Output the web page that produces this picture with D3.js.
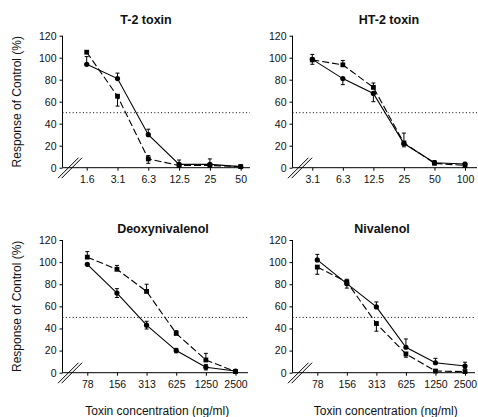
<!DOCTYPE html>
<html><head><meta charset="utf-8">
<script src="https://cdn.jsdelivr.net/npm/d3@7"></script>
<style>
body{margin:0;background:#fff}
svg{display:block}
text{font-family:"Liberation Sans",Arial,sans-serif;fill:#111}
</style>
</head><body>
<svg id="chart" width="478" height="417"></svg>
<script>
// ---------- data ----------
const yTicks = [0, 20, 40, 60, 80, 100, 120];
const refLine = 50;

const t2Conc = ["1.6", "3.1", "6.3", "12.5", "25", "50"];
const t2Solid = [94, 81, 30, 3, 3, 1];
const t2SolidUp = [7, 5, 5, 0, 0, 0];
const t2SolidDown = [0, 0, 0, 0, 0, 0];
const t2Dash = [105, 65, 8, 2, 2, 1];
const t2DashUp = [0, 0, 3, 5, 6, 0];
const t2DashDown = [0, 9, 4, 0, 0, 0];

const ht2Conc = ["3.1", "6.3", "12.5", "25", "50", "100"];
const ht2Solid = [98.5, 81, 67.5, 22, 4.5, 3.3];
const ht2SolidUp = [4.5, 0, 0, 0, 2, 1.5];
const ht2SolidDown = [4.5, 5.5, 7.5, 3, 0, 0];
const ht2Dash = [98, 93.5, 73, 22.5, 4, 2];
const ht2DashUp = [0, 4, 4, 9, 0, 0];
const ht2DashDown = [0, 0, 0, 0, 0, 0];

const donConc = ["78", "156", "313", "625", "1250", "2500"];
const donSolid = [98, 72, 43, 20, 5, 1.5];
const donSolidUp = [0, 4, 3.5, 2, 2.5, 0];
const donSolidDown = [0, 4, 3.5, 2, 2.5, 0];
const donDash = [104.5, 93.5, 73.5, 35.5, 11.5, 1];
const donDashUp = [5, 3.5, 6.5, 2.5, 6, 0];
const donDashDown = [0, 0, 0, 0, 0, 0];

const nivConc = ["78", "156", "313", "625", "1250", "2500"];
const nivSolid = [102, 80.5, 59.5, 23, 9, 6];
const nivSolidUp = [5, 4, 4.5, 7.5, 4, 3.5];
const nivSolidDown = [0, 4, 0, 0, 0, 2.5];
const nivDash = [95.5, 82, 44.5, 17, 1.5, 1];
const nivDashUp = [0, 0, 0, 0, 0, 0];
const nivDashDown = [6.5, 0, 7, 3, 0, 0];

const titles = ["T-2 toxin", "HT-2 toxin", "Deoxynivalenol", "Nivalenol"];
const yLabel = "Response of Control (%)";
const xLabel = "Toxin concentration (ng/ml)";

// ---------- layout ----------
const panels = [
  {title: titles[0], cats: t2Conc, solid: t2Solid, sUp: t2SolidUp, sDn: t2SolidDown,
   dash: t2Dash, dUp: t2DashUp, dDn: t2DashDown,
   left: 62.5, right: 250, top: 35.7, bottom: 167.7, first: 86.7, last: 240.7,
   titleX: 146, titleY: 24, yLab: true, xLab: false},
  {title: titles[1], cats: ht2Conc, solid: ht2Solid, sUp: ht2SolidUp, sDn: ht2SolidDown,
   dash: ht2Dash, dUp: ht2DashUp, dDn: ht2DashDown,
   left: 292.5, right: 477, top: 35.7, bottom: 167.7, first: 312.3, last: 465,
   titleX: 389, titleY: 24, yLab: false, xLab: false},
  {title: titles[2], cats: donConc, solid: donSolid, sUp: donSolidUp, sDn: donSolidDown,
   dash: donDash, dUp: donDashUp, dDn: donDashDown,
   left: 62.5, right: 248, top: 240, bottom: 372.7, first: 87.3, last: 235.5,
   titleX: 163, titleY: 233, yLab: true, xLab: true},
  {title: titles[3], cats: nivConc, solid: nivSolid, sUp: nivSolidUp, sDn: nivSolidDown,
   dash: nivDash, dUp: nivDashUp, dDn: nivDashDown,
   left: 292.5, right: 475, top: 240, bottom: 372.7, first: 317.3, last: 465,
   titleX: 382, titleY: 233, yLab: false, xLab: true}
];

const svg = d3.select("#chart");

panels.forEach(p => {
  const g = svg.append("g");
  const x = d3.scalePoint().domain(p.cats).range([p.first, p.last]);
  const y = d3.scaleLinear().domain([0, 120]).range([p.bottom, p.top]);

  // title
  g.append("text").attr("x", p.titleX).attr("y", p.titleY)
    .attr("text-anchor", "middle").attr("font-size", 12.5).attr("font-weight", "bold")
    .text(p.title);

  // reference dotted line at 50%
  g.append("line").attr("x1", p.left).attr("x2", p.right)
    .attr("y1", y(refLine)).attr("y2", y(refLine))
    .attr("stroke", "#000").attr("stroke-width", 1).attr("stroke-dasharray", "1,2.4");

  // y axis
  const ya = g.append("g").attr("transform", `translate(${p.left},0)`)
    .call(d3.axisLeft(y).tickValues(yTicks).tickSize(3).tickPadding(3));
  ya.select(".domain").attr("stroke", "#000").attr("d", `M-0,${p.top}V${p.bottom}`);
  ya.selectAll(".tick line").attr("stroke", "#000");
  ya.selectAll(".tick text").attr("font-size", 10.5).attr("font-family", "Liberation Sans, Arial, sans-serif").attr("fill", "#111");

  // x axis
  const xa = g.append("g").attr("transform", `translate(0,${p.bottom})`)
    .call(d3.axisBottom(x).tickSize(3).tickPadding(5));
  xa.select(".domain").remove();
  xa.selectAll(".tick line").attr("stroke", "#000");
  xa.selectAll(".tick text").attr("font-size", 10.5).attr("font-family", "Liberation Sans, Arial, sans-serif").attr("fill", "#111");
  g.append("line").attr("x1", p.left).attr("x2", p.right)
    .attr("y1", p.bottom).attr("y2", p.bottom).attr("stroke", "#000").attr("stroke-width", 1);

  // axis break marks
  [0, 3.6].forEach(off => {
    g.append("line")
      .attr("x1", p.left - 4.5 + off).attr("y1", p.bottom + 10.5)
      .attr("x2", p.left + 16 + off).attr("y2", p.bottom - 10)
      .attr("stroke", "#000").attr("stroke-width", 1);
  });

  const line = d3.line().x((d, i) => x(p.cats[i])).y(d => y(d));

  // series lines
  g.append("path").datum(p.solid).attr("d", line)
    .attr("fill", "none").attr("stroke", "#000").attr("stroke-width", 1.1);
  g.append("path").datum(p.dash).attr("d", line)
    .attr("fill", "none").attr("stroke", "#000").attr("stroke-width", 1.1)
    .attr("stroke-dasharray", "7,3");

  // error bars
  function errBars(vals, up, dn) {
    vals.forEach((v, i) => {
      const cx = x(p.cats[i]);
      if (up[i] > 0) {
        g.append("line").attr("x1", cx).attr("x2", cx).attr("y1", y(v)).attr("y2", y(v + up[i]))
          .attr("stroke", "#000").attr("stroke-width", 1);
        g.append("line").attr("x1", cx - 2).attr("x2", cx + 2).attr("y1", y(v + up[i])).attr("y2", y(v + up[i]))
          .attr("stroke", "#000").attr("stroke-width", 1);
      }
      if (dn[i] > 0) {
        g.append("line").attr("x1", cx).attr("x2", cx).attr("y1", y(v)).attr("y2", y(v - dn[i]))
          .attr("stroke", "#000").attr("stroke-width", 1);
        g.append("line").attr("x1", cx - 2).attr("x2", cx + 2).attr("y1", y(v - dn[i])).attr("y2", y(v - dn[i]))
          .attr("stroke", "#000").attr("stroke-width", 1);
      }
    });
  }
  errBars(p.solid, p.sUp, p.sDn);
  errBars(p.dash, p.dUp, p.dDn);

  // markers
  g.selectAll(null).data(p.solid).enter().append("circle")
    .attr("cx", (d, i) => x(p.cats[i])).attr("cy", d => y(d)).attr("r", 2.6).attr("fill", "#000");
  g.selectAll(null).data(p.dash).enter().append("rect")
    .attr("x", (d, i) => x(p.cats[i]) - 2.4).attr("y", d => y(d) - 2.4)
    .attr("width", 4.8).attr("height", 4.8).attr("fill", "#000");

  // axis titles
  if (p.yLab) {
    g.append("text")
      .attr("transform", `translate(17,${(p.top + p.bottom) / 2}) rotate(-90)`)
      .attr("text-anchor", "middle").attr("dominant-baseline", "central")
      .attr("font-size", 12).text(yLabel);
  }
  if (p.xLab) {
    g.append("text").attr("x", (p.left + p.right) / 2 + 2).attr("y", 415)
      .attr("text-anchor", "middle").attr("font-size", 12).text(xLabel);
  }
});
</script>
</body></html>
